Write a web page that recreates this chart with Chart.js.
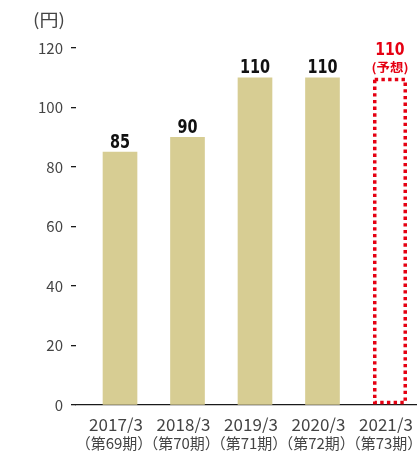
<!DOCTYPE html>
<html>
<head>
<meta charset="utf-8">
<script src="https://cdn.jsdelivr.net/npm/chart.js@4/dist/chart.umd.min.js"></script>
<style>
html,body{margin:0;padding:0;overflow:hidden;background:#fff;}
#wrap{width:440px;height:453px;}
</style>
</head>
<body>
<div id="wrap"><canvas id="c" width="440" height="453"></canvas></div>
<script>
const yearLabels = ['2017/3', '2018/3', '2019/3', '2020/3', '2021/3'];
const periodLabels = ['（第69期）', '（第70期）', '（第71期）', '（第72期）', '（第73期）'];
const dividends = [85, 90, 110, 110, 110];
const forecastFlags = [false, false, false, false, true];
const yTicks = [0, 20, 40, 60, 80, 100, 120];
const unitLabel = '(円)';
const forecastNote = '(予想)';

const BAR = '#d7cd93';
const RED = '#e50012';
const TXT = '#444444';
const JP = "'Noto Sans CJK JP', 'Noto Sans', sans-serif";
const NUM = "'DejaVu Sans', Roboto, sans-serif";

const X_MIN = -0.652, X_MAX = 4.741;
const idxTicks = s => { s.ticks = yearLabels.map((_, i) => ({ value: i })); };

function narrowText(ctx, text, x, y, sx) {
  ctx.save();
  ctx.translate(x, y);
  ctx.scale(sx, 1);
  ctx.fillText(text, 0, 0);
  ctx.restore();
}

const overlay = {
  id: 'overlay',
  afterDatasetsDraw(chart) {
    const ctx = chart.ctx;
    const meta = chart.getDatasetMeta(0);
    meta.data.forEach((bar, i) => {
      const p = bar.getProps(['x', 'y', 'base', 'width'], true);
      const left = p.x - p.width / 2;
      ctx.save();
      ctx.textAlign = 'center';
      ctx.textBaseline = 'alphabetic';
      if (forecastFlags[i]) {
        const lw = 3.5;
        ctx.strokeStyle = RED;
        ctx.lineWidth = lw;
        ctx.setLineDash([3.4, 3.3]);
        ctx.lineCap = 'butt';
        ctx.strokeRect(left + lw / 2, p.y + lw / 2, p.width - lw, p.base - p.y - lw);
        ctx.setLineDash([]);
        ctx.fillStyle = RED;
        ctx.font = "bold 12px " + JP;
        narrowText(ctx, forecastNote, p.x, p.y - 6, 1.12);
        ctx.font = "bold 18px " + NUM;
        narrowText(ctx, String(dividends[i]), p.x, p.y - 22.5, 0.78);
      } else {
        ctx.fillStyle = '#111';
        ctx.font = "bold 19px " + NUM;
        narrowText(ctx, String(dividends[i]), p.x, p.y - 4.5, 0.76);
      }
      ctx.restore();
    });
    const ys = chart.scales.y;
    ctx.save();
    ctx.fillStyle = TXT;
    ctx.font = "17px " + JP;
    ctx.textAlign = 'center';
    ctx.textBaseline = 'middle';
    narrowText(ctx, unitLabel, ys.right - 27, 20, 1.12);
    ctx.restore();
  }
};

new Chart(document.getElementById('c'), {
  type: 'bar',
  data: {
    datasets: [{
      data: dividends.map((v, i) => ({ x: i, y: v })),
      backgroundColor: forecastFlags.map(f => f ? 'rgba(0,0,0,0)' : BAR),
      borderWidth: 0,
      barThickness: 34,
      xAxisID: 'x',
      yAxisID: 'y'
    }]
  },
  options: {
    responsive: false,
    devicePixelRatio: 1,
    animation: false,
    layout: { padding: { top: 48, left: 0, right: 0, bottom: 0 } },
    plugins: { legend: { display: false }, tooltip: { enabled: false }, title: { display: false } },
    scales: {
      x: {
        type: 'linear',
        position: 'bottom',
        offset: false,
        min: X_MIN, max: X_MAX,
        afterBuildTicks: idxTicks,
        afterFit: s => { s.height = 28; },
        grid: { display: false, drawTicks: false, offset: false },
        border: { display: true, color: '#1a1a1a', width: 1.3 },
        ticks: {
          autoSkip: false, maxRotation: 0, padding: 9, labelOffset: -4,
          color: TXT, font: { family: JP, size: 17 },
          callback: v => yearLabels[v] ?? ''
        }
      },
      x2: {
        type: 'linear',
        position: 'bottom',
        offset: false,
        min: X_MIN, max: X_MAX,
        afterBuildTicks: idxTicks,
        afterFit: s => { s.height = 20; },
        grid: { display: false, drawTicks: false, offset: false },
        border: { display: false },
        ticks: {
          autoSkip: false, maxRotation: 0, padding: 1, labelOffset: -6,
          color: TXT, font: { family: JP, size: 15 },
          callback: v => periodLabels[v] ?? ''
        }
      },
      y: {
        min: 0, max: 120,
        afterBuildTicks: s => { s.ticks = yTicks.map(v => ({ value: v })); },
        afterFit: s => { s.width = 76; },
        grid: { drawOnChartArea: false, drawTicks: true, tickLength: 5, color: '#1a1a1a', lineWidth: 1.3 },
        border: { display: false },
        ticks: { padding: 8, color: TXT, font: { family: JP, size: 15 } }
      }
    }
  },
  plugins: [overlay]
});
</script>
</body>
</html>
